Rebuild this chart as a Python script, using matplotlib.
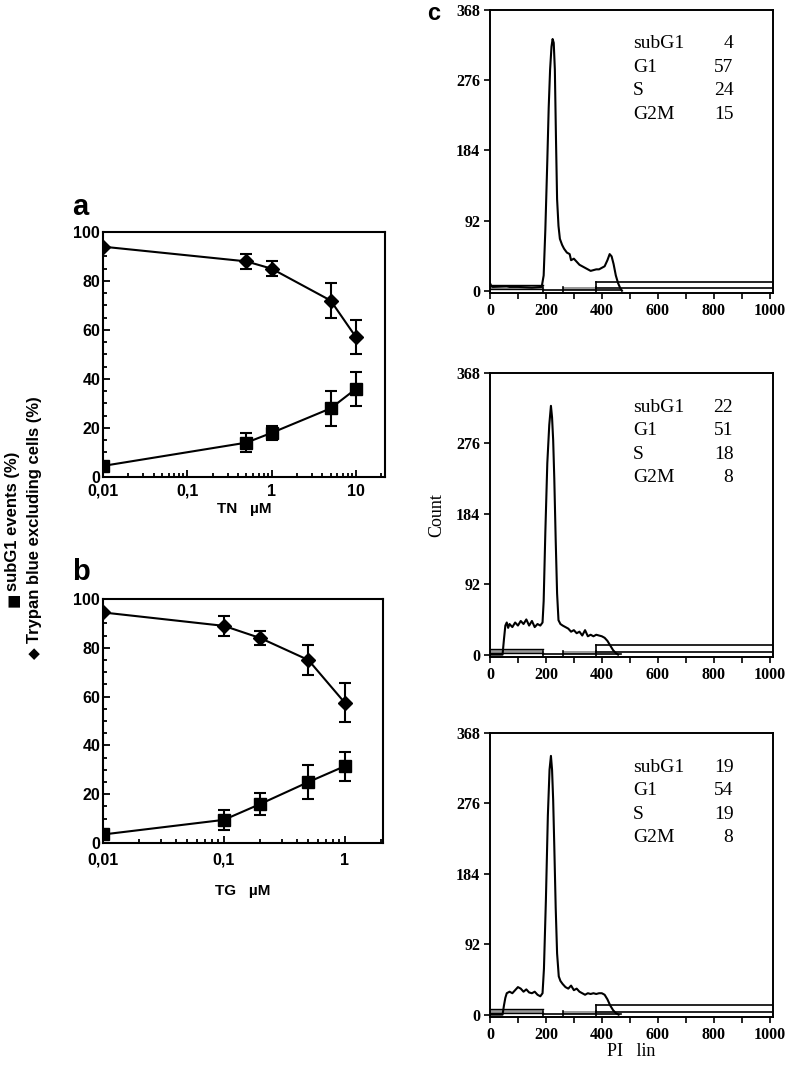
import matplotlib
matplotlib.use("Agg")
import matplotlib.pyplot as plt
from matplotlib.ticker import MultipleLocator

# ---------------------------------------------------------------
# Panel a : TN
tn_x = [0.01, 0.5, 1, 5, 10]
tn_trypan = [94, 88, 85, 72, 57]
tn_trypan_err = [0, 3, 3, 7, 7]
tn_subg1 = [4.5, 14, 18, 28, 36]
tn_subg1_err = [0, 4, 3, 7, 7]

# Panel b : TG
tg_x = [0.01, 0.1, 0.2, 0.5, 1]
tg_trypan = [94.5, 89, 84, 75, 57.5]
tg_trypan_err = [0, 4, 3, 6, 8]
tg_subg1 = [3.5, 9.5, 16, 25, 31.5]
tg_subg1_err = [0, 4, 4.5, 7, 6]

# Panel c : histogrammes PI
h1_x = [0, 5, 10, 60, 70, 100, 150, 185, 192, 198, 205, 210, 215, 220, 224, 228, 232, 236,
        240, 245, 250, 258, 265, 275, 285, 290, 300, 310, 320, 330, 340, 350, 360, 370,
        380, 390, 400, 410, 420, 428, 435, 442, 450, 458, 465, 472]
h1_y = [10, 6, 5, 6, 5, 5, 4, 5, 20, 80, 170, 240, 290, 320, 330, 325, 290, 200,
        120, 85, 68, 60, 55, 50, 48, 40, 42, 38, 34, 32, 30, 28, 26, 27,
        28, 28, 30, 32, 40, 48, 45, 35, 20, 10, 4, 0]

h2_x = [0, 45, 50, 55, 60, 65, 70, 80, 90, 100, 110, 120, 130, 140, 150, 160, 170, 180,
        188, 192, 198, 205, 212, 218, 222, 226, 230, 235, 240, 245, 252, 260, 270, 280,
        290, 300, 310, 320, 330, 340, 350, 360, 370, 380, 390, 400, 410, 420, 430, 440,
        450, 458]
h2_y = [0, 0, 20, 38, 42, 35, 40, 36, 42, 38, 44, 40, 46, 38, 44, 36, 40, 38,
        42, 70, 160, 250, 300, 325, 310, 280, 230, 150, 80, 45, 40, 38, 36, 34,
        30, 32, 28, 30, 25, 32, 24, 26, 24, 26, 25, 24, 22, 18, 12, 6,
        2, 0]

h3_x = [0, 45, 50, 55, 60, 70, 80, 90, 100, 110, 120, 130, 140, 150, 160, 170, 180, 188,
        193, 200, 207, 213, 218, 222, 226, 230, 235, 240, 246, 252, 260, 270, 280, 290,
        300, 310, 320, 330, 340, 350, 360, 370, 380, 390, 400, 410, 420, 430, 440, 450, 460]
h3_y = [0, 0, 12, 22, 28, 30, 28, 32, 36, 34, 30, 33, 29, 28, 30, 26, 24, 28,
        60, 150, 260, 320, 338, 320, 280, 220, 140, 80, 50, 44, 40, 36, 34, 38,
        32, 34, 30, 28, 26, 28, 27, 28, 27, 28, 28, 26, 20, 12, 6, 2, 0]

phase_names = ["subG1", "G1", "S", "G2M"]
phase_pct = [[4, 57, 24, 15], [22, 51, 18, 8], [19, 54, 19, 8]]
hist_yticks = [0, 92, 184, 276, 368]

# ---------------------------------------------------------------
sans = "Liberation Sans"
serif = "Liberation Serif"

fig = plt.figure(figsize=(7.89, 10.67), dpi=100)


def dose_panel(rect, x, tryp, tryp_err, sub, sub_err, xlim, xticks, xlabels, xlabel,
               xpad, lpad):
    ax = fig.add_axes(rect)
    ax.errorbar(x, tryp, yerr=tryp_err, fmt="-D", color="k", ms=7, lw=1.5,
                capsize=4, elinewidth=1.5, capthick=1.5)
    ax.errorbar(x, sub, yerr=sub_err, fmt="-s", color="k", ms=8, lw=1.5,
                capsize=4, elinewidth=1.5, capthick=1.5)
    ax.set_xscale("log")
    ax.set_xlim(*xlim)
    ax.set_ylim(0, 100)
    ax.set_xticks(xticks)
    ax.set_xticklabels(xlabels)
    ax.yaxis.set_major_locator(MultipleLocator(20))
    ax.yaxis.set_minor_locator(MultipleLocator(5))
    ax.tick_params(which="both", direction="in", width=1.3)
    ax.tick_params(which="major", length=5)
    ax.tick_params(which="minor", length=3)
    ax.tick_params(axis="y", pad=2)
    ax.tick_params(axis="x", pad=xpad)
    for lab in ax.get_xticklabels() + ax.get_yticklabels():
        lab.set_fontfamily(sans)
        lab.set_fontweight("bold")
        lab.set_fontsize(11.5)
    for s in ax.spines.values():
        s.set_linewidth(1.5)
    ax.set_xlabel(xlabel, family=sans, fontweight="bold", fontsize=11, labelpad=lpad)
    return ax


ax_a = dose_panel([0.1305, 0.553, 0.3574, 0.2296], tn_x, tn_trypan, tn_trypan_err,
                  tn_subg1, tn_subg1_err, (0.01, 22), [0.01, 0.1, 1, 10],
                  ["0,01", "0,1", "1", "10"], "TN   \u00b5M", 5, 2)
ax_b = dose_panel([0.1305, 0.2099, 0.3549, 0.2287], tg_x, tg_trypan, tg_trypan_err,
                  tg_subg1, tg_subg1_err, (0.01, 2.07), [0.01, 0.1, 1],
                  ["0,01", "0,1", "1"], "TG   \u00b5M", 7, 12)

fig.text(72 / 789, 1 - 207 / 1067, "a", family=sans, fontweight="bold", fontsize=21, va="center")
fig.text(72 / 789, 1 - 572 / 1067, "b", family=sans, fontweight="bold", fontsize=21, va="center")
fig.text(427 / 789, 1 - 14 / 1067, "c", family=sans, fontweight="bold", fontsize=17, va="center")

# axe y commun des panneaux a et b (deux lignes, symboles inclus)
fig.text(13 / 789, 1 - 600 / 1067, "\u25a0", family="DejaVu Sans", fontsize=11,
         rotation=90, ha="center", va="center")
fig.text(13 / 789, 1 - 591 / 1067, "subG1 events (%)", rotation=90,
         rotation_mode="anchor", ha="left", va="center", family=sans,
         fontsize=12, fontweight="bold")
fig.text(35 / 789, 1 - 653 / 1067, "\u25c6", family="DejaVu Sans", fontsize=11,
         rotation=90, ha="center", va="center")
fig.text(35 / 789, 1 - 643 / 1067, "Trypan blue excluding cells (%)", rotation=90,
         rotation_mode="anchor", ha="left", va="center", family=sans,
         fontsize=12, fontweight="bold")

# ---------------------------------------------------------------
hist_rects = [[0.621, 0.7254, 0.3587, 0.2652],
              [0.621, 0.3843, 0.3587, 0.2662],
              [0.621, 0.0469, 0.3587, 0.2662]]
hists = [(h1_x, h1_y), (h2_x, h2_y), (h3_x, h3_y)]

for i, (rect, (hx, hy)) in enumerate(zip(hist_rects, hists)):
    ax = fig.add_axes(rect)
    ax.plot(hx, hy, color="k", lw=1.5)
    # gates / model marks near baseline
    ax.fill_between([0, 190], 2, 7, color="0.6", lw=0)
    ax.plot([0, 190], [7, 7], color="k", lw=1)
    ax.plot([0, 190], [2, 2], color="k", lw=1)
    ax.fill_between([260, 380], 1, 5, color="0.6", lw=0)
    ax.plot([190, 470], [1, 1], color="k", lw=1.2)
    ax.plot([380, 1012], [12, 12], color="k", lw=1.2)
    ax.plot([380, 1012], [3, 3], color="k", lw=1.2)
    ax.plot([380, 380], [3, 12], color="k", lw=1.2)
    for xm in [190, 260, 380]:
        ax.plot([xm, xm], [-2, 5], color="k", lw=1.2)
    ax.set_xlim(0, 1012)
    ax.set_ylim(-3, 368)
    ax.set_yticks(hist_yticks)
    ax.xaxis.set_major_locator(MultipleLocator(200))
    ax.xaxis.set_minor_locator(MultipleLocator(100))
    ax.tick_params(which="both", direction="out", width=1.2)
    ax.tick_params(which="major", length=4, pad=3)
    ax.tick_params(which="minor", length=4)
    for lab in ax.get_xticklabels() + ax.get_yticklabels():
        lab.set_fontfamily(serif)
        lab.set_fontsize(11.5)
        lab.set_fontweight("bold")
    for s in ax.spines.values():
        s.set_linewidth(1.4)
    for k, (name, val) in enumerate(zip(phase_names, phase_pct[i])):
        yy = 0.88 - k * 0.083
        ax.text(0.505, yy, name, transform=ax.transAxes, family=serif, fontsize=14,
                va="center", ha="left")
        ax.text(0.86, yy, str(val), transform=ax.transAxes, family=serif, fontsize=14,
                va="center", ha="right")
    if i == 1:
        ax.set_ylabel("Count", family=serif, fontsize=13, labelpad=8)
    if i == 2:
        ax.set_xlabel("PI   lin", family=serif, fontsize=13, labelpad=0)

fig.savefig("out.png", dpi=100)
